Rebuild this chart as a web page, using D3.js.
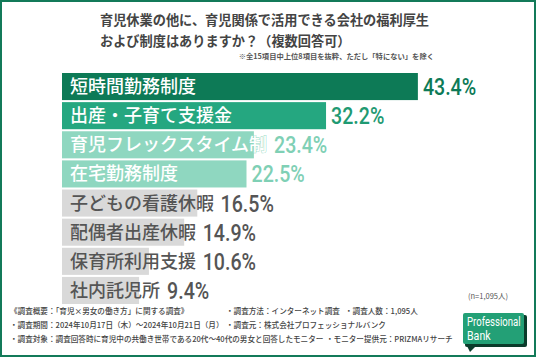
<!DOCTYPE html>
<html><head><meta charset="utf-8">
<script src="https://cdn.jsdelivr.net/npm/d3@7"></script>
<style>
html,body{margin:0;padding:0;background:#fff;}
svg{display:block;}
</style></head>
<body>
<script>
const categories = ["短時間勤務制度","出産・子育て支援金","育児フレックスタイム制","在宅勤務制度","子どもの看護休暇","配偶者出産休暇","保育所利用支援","社内託児所"];
const values = [43.4, 32.2, 23.4, 22.5, 16.5, 14.9, 10.6, 9.4];
const valueLabels = ["43.4%","32.2%","23.4%","22.5%","16.5%","14.9%","10.6%","9.4%"];
const barColors = ["#0d7a56","#25a780","#8fd7c0","#8fd7c0","#d9d9d9","#d9d9d9","#d9d9d9","#d9d9d9"];
const labelColors = ["#ffffff","#ffffff","#ffffff","#ffffff","#555555","#555555","#555555","#555555"];
const valueColors = ["#0d7a56","#1f9a72","#7fd0b5","#7fd0b5","#555555","#555555","#555555","#555555"];
const titleLines = ["育児休業の他に、育児関係で活用できる会社の福利厚生","および制度はありますか？（複数回答可）"];
const noteText = "※全15項目中上位8項目を抜粋、ただし「特にない」を除く";
const sampleText = "(n=1,095人)";
const footerItems = [
  {text:"《調査概要：「育児×男女の働き方」に関する調査》", col:0, row:0},
  {text:"・調査方法：インターネット調査", col:1, row:0},
  {text:"・調査人数：1,095人", col:2, row:0},
  {text:"・調査期間：2024年10月17日（木）〜2024年10月21日（月）", col:0, row:1},
  {text:"・調査元：株式会社プロフェッショナルバンク", col:1, row:1},
  {text:"・調査対象：調査回答時に育児中の共働き世帯である20代〜40代の男女と回答したモニター", col:0, row:2},
  {text:"・モニター提供元：PRIZMAリサーチ", col:3, row:2}
];

const W = 536, H = 357;
const JP = "'Noto Sans CJK JP','Noto Sans',sans-serif";
const svg = d3.select("body").append("svg").attr("width", W).attr("height", H);

svg.append("rect").attr("x",1).attr("y",1).attr("width",W-2).attr("height",H-2)
  .attr("fill","#fff").attr("stroke","#137a59").attr("stroke-width",2);

// title
svg.selectAll("text.title").data(titleLines).join("text")
  .attr("x",100).attr("y",(d,i)=>25+i*21)
  .attr("font-family",JP).attr("font-size",13.2).attr("font-weight",700)
  .attr("fill","#444").text(d=>d);
svg.append("text").attr("x",434).attr("y",59).attr("text-anchor","end")
  .attr("font-family",JP).attr("font-size",7.3).attr("font-weight",700)
  .attr("fill","#555").text(noteText);

const x = d3.scaleLinear().domain([0,50]).range([62,62+410]);
const y = d3.scaleBand().domain(categories).range([73,304]).paddingInner(0.07);
const labelSize = 18;

const g = svg.append("g");
g.selectAll("rect.bar").data(categories).join("rect")
  .attr("x",x(0)).attr("y",d=>y(d))
  .attr("width",(d,i)=>x(values[i])-x(0)).attr("height",y.bandwidth())
  .attr("fill",(d,i)=>barColors[i]);

g.selectAll("text.lab").data(categories).join("text")
  .attr("x",x(0)+8).attr("y",d=>y(d)+y.bandwidth()/2+6.5)
  .attr("font-family",JP).attr("font-size",labelSize).attr("font-weight",500)
  .attr("fill",(d,i)=>labelColors[i])
  .attr("stroke",(d,i)=>i<4 ? barColors[i] : "none")
  .attr("stroke-width",(d,i)=>i<4 ? 0.8 : 0)
  .attr("paint-order","stroke")
  .text(d=>d);

const labEnds = categories.map(c => x(0)+8+c.length*labelSize*0.99);

g.selectAll("text.val").data(categories).join("text")
  .attr("transform",(d,i)=>{
    const vx = Math.max(x(values[i])+5, labEnds[i]+8);
    return `translate(${vx},${y(d)+y.bandwidth()/2+8.5}) scale(0.8,1)`;
  })
  .attr("font-family","Roboto, sans-serif").attr("font-size",24.5).attr("font-weight",500)
  .attr("fill",(d,i)=>valueColors[i]).text((d,i)=>valueLabels[i]);

svg.append("text").attr("x",468).attr("y",299)
  .attr("font-family",JP).attr("font-size",7.5).attr("fill","#555").text(sampleText);

// footer
const colX = [10,226,345,326];
svg.selectAll("text.foot").data(footerItems).join("text")
  .attr("x",d=>colX[d.col]).attr("y",d=>314+d.row*14)
  .attr("font-family",JP).attr("font-size",7.6).attr("font-weight",500)
  .attr("fill","#444").text(d=>d.text);

// logo
const lg = svg.append("g");
lg.append("path").attr("d","M466,344 L470,352 L476,346 Z").attr("fill","#0b3b2b");
lg.append("rect").attr("x",465).attr("y",315).attr("width",62).attr("height",32).attr("rx",2).attr("fill","#0b3b2b");
lg.append("rect").attr("x",463).attr("y",313).attr("width",61).attr("height",31).attr("rx",2).attr("fill","#23a076");
lg.append("text").attr("font-family","Roboto, sans-serif").attr("font-size",12)
  .attr("fill","#fff").attr("transform","translate(467,326) scale(0.8,1)").text("Professional");
lg.append("text").attr("font-family","Roboto, sans-serif").attr("font-size",12.5)
  .attr("fill","#fff").attr("transform","translate(467,340) scale(0.85,1)").text("Bank");
</script>
</body></html>
